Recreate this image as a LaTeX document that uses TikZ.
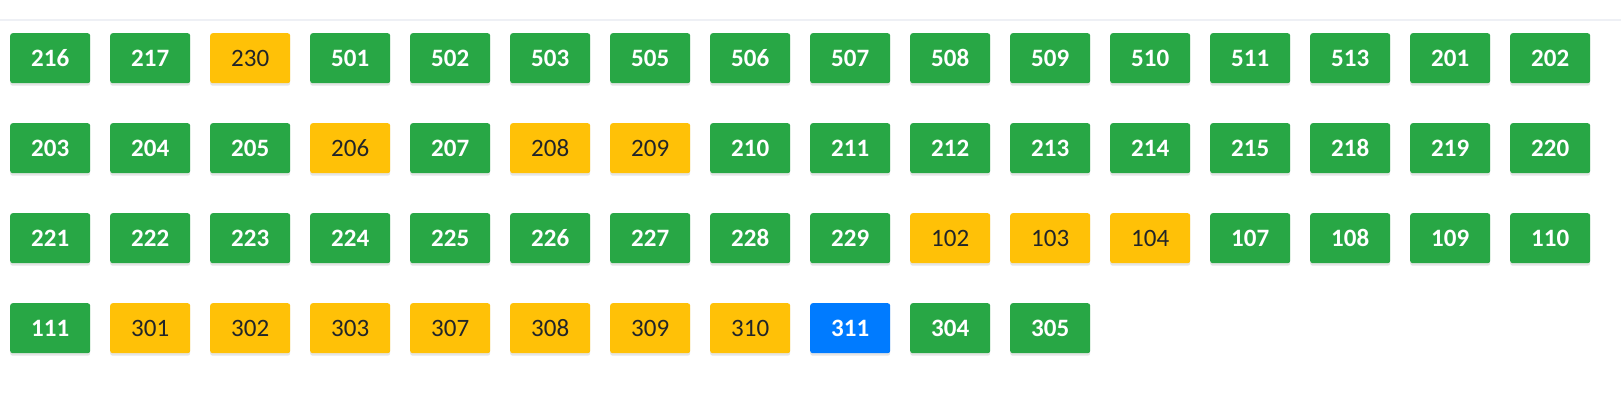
\documentclass[tikz,border=0pt]{standalone}
\usepackage{fontspec}
\setmainfont{Carlito}
\usetikzlibrary{shadows}
\definecolor{okgreen}{HTML}{28A745}
\definecolor{warnyellow}{HTML}{FFC107}
\definecolor{infoblue}{HTML}{007BFF}
\definecolor{darktext}{HTML}{212529}
\definecolor{topline}{HTML}{EEF0F5}
\tikzset{
  room/.style={rectangle, rounded corners=2.5pt, minimum width=80pt, minimum height=50pt,
    inner sep=0pt, anchor=north west,
    drop shadow={shadow xshift=0pt, shadow yshift=-2.5pt, opacity=0.10, fill=black}},
  free/.style={room, fill=okgreen, text=white, font=\fontsize{25}{26}\selectfont\bfseries},
  busy/.style={room, fill=warnyellow, text=darktext, font=\fontsize{25}{26}\selectfont},
  sel/.style={room, fill=infoblue, text=white, font=\fontsize{25}{26}\selectfont\bfseries},
}
\begin{document}
\begin{tikzpicture}[x=1pt,y=1pt]
\useasboundingbox (0,0) rectangle (1621,-403);
\fill[white] (0,0) rectangle (1621,-403);
\draw[topline, line width=1.2pt] (0,-20) -- (1621,-20);
\foreach \lab/\st [count=\i from 0] in {
  216/free,217/free,230/busy,501/free,502/free,503/free,505/free,506/free,507/free,508/free,509/free,510/free,511/free,513/free,201/free,202/free,
  203/free,204/free,205/free,206/busy,207/free,208/busy,209/busy,210/free,211/free,212/free,213/free,214/free,215/free,218/free,219/free,220/free,
  221/free,222/free,223/free,224/free,225/free,226/free,227/free,228/free,229/free,102/busy,103/busy,104/busy,107/free,108/free,109/free,110/free,
  111/free,301/busy,302/busy,303/busy,307/busy,308/busy,309/busy,310/busy,311/sel,304/free,305/free}
{
  \pgfmathtruncatemacro{\col}{mod(\i,16)}
  \pgfmathtruncatemacro{\row}{div(\i,16)}
  \node[\st] (n\lab) at ({10+100*\col},{-33-90*\row}) {\raisebox{-1.2pt}{\lab}};
}
\end{tikzpicture}
\end{document}
